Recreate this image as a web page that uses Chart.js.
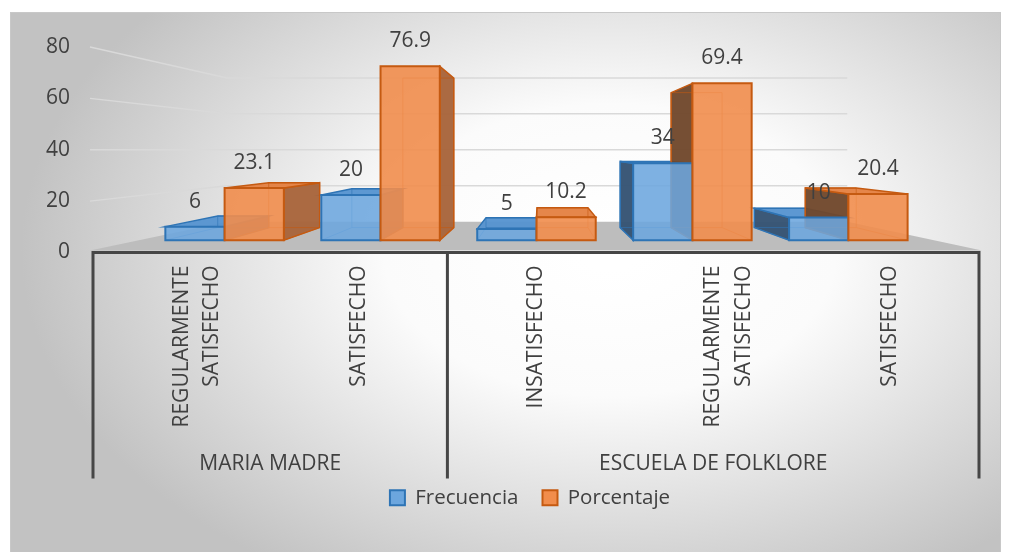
<!DOCTYPE html>
<html>
<head>
<meta charset="utf-8">
<script src="https://cdn.jsdelivr.net/npm/chart.js@4.4.0/dist/chart.umd.min.js"></script>
<style>
  html, body { margin: 0; padding: 0; background: #fff; }
</style>
</head>
<body>
<canvas id="chart_all" width="1011" height="552"></canvas>
<script>
var categories = [['REGULARMENTE', 'SATISFECHO'], 'SATISFECHO', 'INSATISFECHO', ['REGULARMENTE', 'SATISFECHO'], 'SATISFECHO'];
var groups = ['MARIA MADRE', 'ESCUELA DE FOLKLORE'];
var groupSizes = [2, 3];
var frecuencia = [6, 20, 5, 34, 10];
var porcentaje = [23.1, 76.9, 10.2, 69.4, 20.4];
var yTicks = [0, 20, 40, 60, 80];

const textColor = '#404040';
const font = 'Open Sans';

// centre of each group, in category index units
let start = 0;
const groupCenters = groupSizes.map(n => {
    const c = start + (n - 1) / 2;
    start += n;
    return c;
});
const groupEdges = [-0.5];
groupSizes.reduce((acc, n) => { groupEdges.push(acc + n - 0.5); return acc + n; }, 0);

// fake 3d: everything is pushed towards a vanishing point
const vp = { x: 540, y: 150 };
const sFront = 0.88, sBack = 0.757, sWall = 0.70;

function proj(px, py, s) {
    return [vp.x + (px - vp.x) * s, vp.y + (py - vp.y) * s];
}

function poly(ctx, pts, fill, stroke, lw) {
    ctx.beginPath();
    ctx.moveTo(pts[0][0], pts[0][1]);
    for (let i = 1; i < pts.length; i++) ctx.lineTo(pts[i][0], pts[i][1]);
    ctx.closePath();
    if (fill) { ctx.fillStyle = fill; ctx.fill(); }
    if (stroke) { ctx.strokeStyle = stroke; ctx.lineWidth = lw || 1.5; ctx.stroke(); }
}

const looks = [
    { front: 'rgba(108,166,222,0.88)', top: 'rgba(84,146,208,0.95)', right: 'rgba(62,112,165,0.95)', left: 'rgba(52,82,114,0.96)', line: '#2e74b5' },
    { front: 'rgba(241,141,76,0.9)', top: 'rgba(228,128,64,0.95)', right: 'rgba(168,100,58,0.96)', left: 'rgba(112,72,44,0.96)', line: '#c55a11' }
];

const scene = {
    id: 'scene',
    afterLayout(chart) {
        // legend sits a bit tighter under the category table
        const lg = chart.legend;
        lg.top -= 15; lg.bottom -= 15;
        lg.left -= 6; lg.right -= 6;
    },
    beforeDraw(chart) {
        const ctx = chart.ctx;
        const area = chart.chartArea;
        const y = chart.scales.y;
        ctx.save();
        ctx.fillStyle = '#ffffff';
        ctx.fillRect(0, 0, chart.width, chart.height);

        // background panel with radial shading
        ctx.save();
        ctx.beginPath();
        ctx.rect(10, 12, 990, 540);
        ctx.clip();
        ctx.translate(610, 250);
        ctx.scale(1.55, 1);
        const g = ctx.createRadialGradient(0, 0, 20, 0, 0, 380);
        g.addColorStop(0, '#ffffff');
        g.addColorStop(0.35, '#fbfbfb');
        g.addColorStop(1, '#c2c2c2');
        ctx.fillStyle = g;
        ctx.fillRect(-600, -400, 1200, 800);
        ctx.restore();
        ctx.strokeStyle = '#c8c8c8';
        ctx.lineWidth = 1;
        ctx.strokeRect(10.5, 12.5, 990, 540);

        // floor
        const y0 = y.getPixelForValue(0);
        poly(ctx, [[area.left - 3, y0 - 2], [area.right + 3, y0 - 2],
            proj(area.right, y0, sWall), proj(area.left, y0, sWall)], '#bdbdbd');

        // side and back wall grid lines
        ctx.strokeStyle = '#d9d9d9';
        ctx.lineWidth = 1.5;
        yTicks.slice(1).forEach(v => {
            const py = y.getPixelForValue(v);
            const a = proj(area.left, py, sWall);
            const b = proj(area.right, py, sWall);
            ctx.beginPath();
            ctx.moveTo(area.left - 3, py);
            ctx.lineTo(a[0], a[1]);
            ctx.lineTo(b[0], b[1]);
            ctx.stroke();
        });
        ctx.restore();
    },
    beforeDatasetsDraw(chart) {
        const ctx = chart.ctx;
        const x = chart.scales.x;
        const x2 = chart.scales.x2;
        const y0 = chart.scales.y.getPixelForValue(0);
        ctx.save();

        // category table lines
        ctx.strokeStyle = '#464646';
        ctx.lineWidth = 3;
        ctx.beginPath();
        ctx.moveTo(x.left - 1.5, y0);
        ctx.lineTo(x.right + 1.5, y0);
        groupEdges.forEach(v => {
            const px = x2.getPixelForValue(v);
            ctx.moveTo(px, y0);
            ctx.lineTo(px, x2.bottom);
        });
        ctx.stroke();

        const boxes = [];
        chart.data.datasets.forEach((ds, di) => {
            chart.getDatasetMeta(di).data.forEach((bar, i) => {
                const p = bar.getProps(['x', 'y', 'base', 'width'], true);
                const L = p.x - p.width / 2, R = p.x + p.width / 2, T = p.y, B = p.base;
                boxes.push({
                    look: looks[di], L, R, T, B, value: ds.data[i],
                    f: [proj(L, T, sFront), proj(R, T, sFront), proj(R, B, sFront), proj(L, B, sFront)],
                    b: [proj(L, T, sBack), proj(R, T, sBack), proj(R, B, sBack), proj(L, B, sBack)]
                });
            });
        });

        // sides and tops first
        boxes.forEach(k => {
            const f = k.f, b = k.b, c = k.look;
            if (k.R < vp.x) poly(ctx, [f[1], b[1], b[2], f[2]], c.right, c.line, 1.5);
            if (k.L > vp.x) poly(ctx, [f[0], b[0], b[3], f[3]], c.left, c.line, 1.5);
            if (k.T > vp.y) poly(ctx, [f[0], f[1], b[1], b[0]], c.top, c.line, 1.5);
            // hidden edges, seen through the front face
            ctx.strokeStyle = c.line;
            ctx.lineWidth = 1;
            ctx.globalAlpha = 0.6;
            ctx.beginPath();
            ctx.moveTo(b[0][0], b[0][1]); ctx.lineTo(b[1][0], b[1][1]);
            ctx.lineTo(b[2][0], b[2][1]); ctx.lineTo(b[3][0], b[3][1]); ctx.closePath();
            ctx.moveTo(f[3][0], f[3][1]); ctx.lineTo(b[3][0], b[3][1]);
            ctx.moveTo(f[2][0], f[2][1]); ctx.lineTo(b[2][0], b[2][1]);
            ctx.stroke();
            ctx.globalAlpha = 1;
        });
        // then the front faces
        boxes.forEach(k => {
            poly(ctx, k.f, k.look.front, k.look.line, 2);
        });

        // value labels
        ctx.fillStyle = textColor;
        ctx.font = '21px "' + font + '"';
        ctx.textAlign = 'center';
        ctx.textBaseline = 'middle';
        boxes.forEach(k => {
            const cx = (k.f[0][0] + k.f[1][0]) / 2;
            ctx.fillText(String(k.value), cx, k.f[0][1] - 25);
        });
        ctx.restore();
        return false;
    }
};

new Chart('chart_all', {
    type: 'bar',
    data: {
        labels: categories,
        datasets: [
            { label: 'Frecuencia', data: frecuencia, backgroundColor: '#6ca6de', borderColor: '#2e74b5', borderWidth: 2 },
            { label: 'Porcentaje', data: porcentaje, backgroundColor: '#f18d4c', borderColor: '#c55a11', borderWidth: 2 }
        ]
    },
    options: {
        responsive: false,
        animation: false,
        layout: { padding: { top: 47, left: 10, right: 32, bottom: 19 } },
        datasets: { bar: { categoryPercentage: 0.76, barPercentage: 1 } },
        plugins: {
            legend: {
                position: 'bottom',
                fullSize: false,
                labels: {
                    boxWidth: 15,
                    boxHeight: 15,
                    padding: 24,
                    color: textColor,
                    font: { family: font, size: 20.5 }
                }
            },
            tooltip: { enabled: false }
        },
        scales: {
            y: {
                min: yTicks[0],
                max: yTicks[yTicks.length - 1],
                ticks: { stepSize: 20, padding: 15, color: textColor, font: { family: font, size: 21 } },
                grid: { display: false },
                border: { display: false },
                afterFit: s => { s.width = 83; }
            },
            x: {
                ticks: {
                    minRotation: 90, maxRotation: 90, autoSkip: false, padding: 5,
                    color: textColor, font: { family: font, size: 21, lineHeight: 1.45 }
                },
                grid: { display: false },
                border: { display: false },
                afterFit: s => { s.height = 180; }
            },
            x2: {
                type: 'linear',
                position: 'bottom',
                weight: 1,
                offset: false,
                min: -0.5,
                max: 4.5,
                afterBuildTicks: s => { s.ticks = groupCenters.map(v => ({ value: v })); },
                ticks: {
                    autoSkip: false, maxRotation: 0, padding: 19,
                    color: textColor, font: { family: font, size: 21 },
                    callback: (v, i) => groups[i]
                },
                grid: { display: false, drawTicks: false, offset: false },
                border: { display: false },
                afterFit: s => { s.height = 46; }
            }
        }
    },
    plugins: [scene]
});
</script>
</body>
</html>
